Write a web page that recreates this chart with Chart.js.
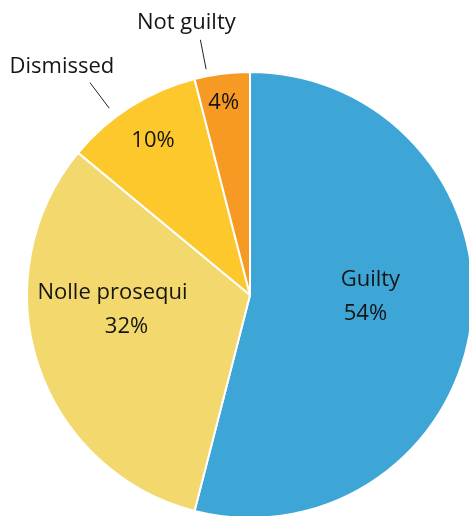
<!DOCTYPE html>
<html>
<head>
<meta charset="utf-8">
<script src="https://cdn.jsdelivr.net/npm/chart.js@4/dist/chart.umd.min.js"></script>
<style>
  html, body { margin: 0; padding: 0; background: #ffffff; overflow: hidden; }
  #wrap { position: absolute; left: 0; top: 0; width: 500px; height: 560px; }
</style>
</head>
<body>
<div id="wrap"><canvas id="chart"></canvas></div>
<script>
// Case outcomes, share of all cases (%)
const categories = ['Guilty', 'Nolle prosequi', 'Dismissed', 'Not guilty'];
const shares = [54, 32, 10, 4];
const colors = ['#3ea6d6', '#f3d86d', '#fdc82b', '#f79a24'];

// 'inside' slices show name + value in the slice; the small ones show the value
// inside and the name beyond the rim with a leader line.
const labelMode = ['inside', 'inside', 'outside', 'outside'];
// angle (deg, clockwise from 12 o'clock) and radius fraction for the inner text
const innerAngle = [91, 264, null, null];
const innerRadius = [0.54, 0.62, 0.82, 0.87];
// horizontal nudge of the percentage text
const pctDx = [-5, 14, 1, -2];
// leader line: angle shift from slice middle (deg), start/end distance past the rim
const leaderShift = [0, 0, -4.6, -3.8];
const leaderFrom = [0, 0, 11, 7];
const leaderTo = [0, 0, 43, 37];
// name position relative to the leader's outer end
const nameDx = [0, 0, -28, -14];
const nameDy = [0, 0, -16, -17];

const FONT = '22px "Open Sans", "Noto Sans", sans-serif';
const INK = '#151515';

const sliceLabels = {
  id: 'sliceLabels',
  afterDatasetsDraw(chart) {
    const ctx = chart.ctx;
    const meta = chart.getDatasetMeta(0);
    ctx.save();
    ctx.font = FONT;
    ctx.fillStyle = INK;
    ctx.textAlign = 'center';
    ctx.textBaseline = 'middle';
    meta.data.forEach((arc, i) => {
      const p = arc.getProps(['x', 'y', 'startAngle', 'endAngle', 'outerRadius'], true);
      const mid = (p.startAngle + p.endAngle) / 2;
      const ang = innerAngle[i] !== null ? (innerAngle[i] - 90) * Math.PI / 180 : mid;
      const r = p.outerRadius * innerRadius[i];
      const tx = p.x + Math.cos(ang) * r;
      const ty = p.y + Math.sin(ang) * r;
      const pct = shares[i] + '%';
      if (labelMode[i] === 'inside') {
        ctx.fillText(categories[i], tx, ty - 17);
        ctx.fillText(pct, tx + pctDx[i], ty + 17);
      } else {
        ctx.fillText(pct, tx + pctDx[i], ty);
        const la = mid + leaderShift[i] * Math.PI / 180;
        const r1 = p.outerRadius + leaderFrom[i], r2 = p.outerRadius + leaderTo[i];
        const x1 = p.x + Math.cos(la) * r1, y1 = p.y + Math.sin(la) * r1;
        const x2 = p.x + Math.cos(la) * r2, y2 = p.y + Math.sin(la) * r2;
        ctx.strokeStyle = '#222222';
        ctx.lineWidth = 1;
        ctx.beginPath();
        ctx.moveTo(x1, y1);
        ctx.lineTo(x2, y2);
        ctx.stroke();
        ctx.fillText(categories[i], x2 + nameDx[i], y2 + nameDy[i]);
      }
    });
    ctx.restore();
  }
};

new Chart(document.getElementById('chart'), {
  type: 'pie',
  data: {
    labels: categories,
    datasets: [{
      data: shares,
      backgroundColor: colors,
      borderColor: '#ffffff',
      borderWidth: 2
    }]
  },
  options: {
    responsive: true,
    maintainAspectRatio: false,
    animation: false,
    layout: { padding: { left: 26, top: 71, right: 26, bottom: 41 } },
    plugins: {
      legend: { display: false },
      tooltip: { enabled: false }
    }
  },
  plugins: [sliceLabels]
});
</script>
</body>
</html>
